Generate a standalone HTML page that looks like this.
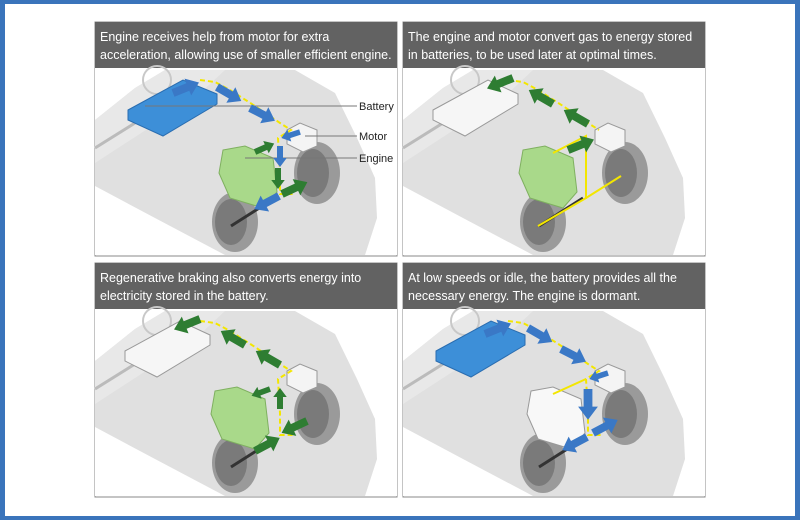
<!DOCTYPE html>
<html><head><meta charset="utf-8"><style>
html,body{margin:0;padding:0;background:#fff}
svg{display:block}
text{font-family:"Liberation Sans",sans-serif}
</style></head><body>
<svg width="800" height="520" viewBox="0 0 800 520" xmlns="http://www.w3.org/2000/svg">
<defs>
<path id="ar" d="M0,-4 L16,-4 L16,-9 L28,0 L16,9 L16,4 L0,4 Z"/>
<g id="base">
  <rect x="0" y="0" width="302" height="187" fill="#fff"/>
  <path d="M0,52 L40,20 L70,2 L200,2 L240,25 L262,70 L280,110 L282,150 L270,187 L130,187 L60,150 L0,118 Z" fill="#e0e0e0"/>
  <path d="M0,52 L40,20 L70,2 L130,2 L100,30 L0,95 Z" fill="#e8e8e8"/>
  <ellipse cx="62" cy="12" rx="14" ry="14" fill="none" stroke="#c8c8c8" stroke-width="2"/>
  <line x1="0" y1="80" x2="40" y2="55" stroke="#bbb" stroke-width="3"/>
  <ellipse cx="222" cy="105" rx="23" ry="31" fill="#9a9a9a"/>
  <ellipse cx="218" cy="105" rx="16" ry="24" fill="#7a7a7a"/>
  <ellipse cx="140" cy="154" rx="23" ry="30" fill="#9a9a9a"/>
  <ellipse cx="136" cy="154" rx="16" ry="23" fill="#7a7a7a"/>
  <line x1="136" y1="158" x2="180" y2="130" stroke="#333" stroke-width="3"/>
  <path d="M192,62 L205,55 L222,62 L222,78 L208,84 L192,76 Z" fill="#f4f4f4" stroke="#999" stroke-width="1"/>
</g>
</defs>
<rect x="0" y="0" width="800" height="520" fill="#3a74bb"/>
<rect x="5" y="4" width="790" height="512" fill="#fff"/>

<g transform="translate(95,22)">
  <rect x="0" y="0" width="302" height="234" fill="#fff" stroke="#888"/>
  <rect x="0" y="0" width="302" height="46" fill="#626262"/>
  <text x="5" y="19" font-size="12.5" fill="#fff">Engine receives help from motor for extra</text>
  <text x="5" y="37" font-size="12.5" fill="#fff">acceleration, allowing use of smaller efficient engine.</text>
  <g transform="translate(0,46)">
    <use href="#base"/>
    <path d="M33,42 L88,12 L122,26 L122,36 L68,68 L33,52 Z" fill="#3d8fd8" stroke="#2a6db0"/>
    <path d="M128,82 L150,78 L178,90 L182,124 L168,140 L135,130 L124,105 Z" fill="#a9d98a" stroke="#7fb060"/>
    <polyline points="105,12 120,14 135,22 160,38 185,55 196,62 183,70 185,104 185,126 198,126" fill="none" stroke="#f3e600" stroke-width="2" stroke-dasharray="5,3"/>
    <line x1="50" y1="38" x2="262" y2="38" stroke="#777"/>
    <line x1="210" y1="68" x2="262" y2="68" stroke="#777"/>
    <line x1="150" y1="90" x2="262" y2="90" stroke="#777"/>
    <text x="264" y="42" font-size="11" fill="#222">Battery</text>
    <text x="264" y="72" font-size="11" fill="#222">Motor</text>
    <text x="264" y="94" font-size="11" fill="#222">Engine</text>
    <g fill="#3a78c6">
      <use href="#ar" transform="translate(78,25) rotate(-22)"/>
      <use href="#ar" transform="translate(122,19) rotate(30)"/>
      <use href="#ar" transform="translate(155,40) rotate(27)"/>
      <use href="#ar" transform="translate(205,64) rotate(162) scale(.7)"/>
      <use href="#ar" transform="translate(185,78) rotate(90) scale(.75)"/>
      <use href="#ar" transform="translate(184,128) rotate(152)"/>
    </g>
    <g fill="#2e7d32">
      <use href="#ar" transform="translate(160,84) rotate(-24) scale(.75)"/>
      <use href="#ar" transform="translate(183,100) rotate(90) scale(.75)"/>
      <use href="#ar" transform="translate(187,126) rotate(-25)"/>
    </g>
  </g>
</g>

<g transform="translate(403,22)">
  <rect x="0" y="0" width="302" height="234" fill="#fff" stroke="#888"/>
  <rect x="0" y="0" width="302" height="46" fill="#626262"/>
  <text x="5" y="19" font-size="12.5" fill="#fff">The engine and motor convert gas to energy stored</text>
  <text x="5" y="37" font-size="12.5" fill="#fff">in batteries, to be used later at optimal times.</text>
  <g transform="translate(0,46)">
    <use href="#base"/>
    <path d="M30,42 L85,12 L115,26 L115,36 L62,68 L30,52 Z" fill="#f6f6f6" stroke="#999"/>
    <path d="M120,82 L142,78 L170,90 L174,124 L160,140 L127,130 L116,105 Z" fill="#a9d98a" stroke="#7fb060"/>
    <polyline points="105,12 120,14 135,22 160,38 185,55 196,62" fill="none" stroke="#f3e600" stroke-width="2" stroke-dasharray="5,3"/>
    <polyline points="150,85 183,68 183,130 135,158" fill="none" stroke="#f3e600" stroke-width="2"/>
    <line x1="183" y1="130" x2="218" y2="108" stroke="#f3e600" stroke-width="2"/>
    <g fill="#2e7d32">
      <use href="#ar" transform="translate(110,10) rotate(158)"/>
      <use href="#ar" transform="translate(150,36) rotate(-150)"/>
      <use href="#ar" transform="translate(185,56) rotate(-150)"/>
      <use href="#ar" transform="translate(165,82) rotate(-22)"/>
    </g>
  </g>
</g>

<g transform="translate(95,263)">
  <rect x="0" y="0" width="302" height="234" fill="#fff" stroke="#888"/>
  <rect x="0" y="0" width="302" height="46" fill="#626262"/>
  <text x="5" y="19" font-size="12.5" fill="#fff">Regenerative braking also converts energy into</text>
  <text x="5" y="37" font-size="12.5" fill="#fff">electricity stored in the battery.</text>
  <g transform="translate(0,46)">
    <use href="#base"/>
    <path d="M30,42 L85,12 L115,26 L115,36 L62,68 L30,52 Z" fill="#f6f6f6" stroke="#999"/>
    <path d="M120,82 L142,78 L170,90 L174,124 L160,140 L127,130 L116,105 Z" fill="#a9d98a" stroke="#7fb060"/>
    <polyline points="105,12 120,14 135,22 160,38 185,55 196,62 183,70 185,104 185,126 198,126" fill="none" stroke="#f3e600" stroke-width="2" stroke-dasharray="5,3"/>
    <g fill="#2e7d32">
      <use href="#ar" transform="translate(105,10) rotate(158)"/>
      <use href="#ar" transform="translate(150,36) rotate(-150)"/>
      <use href="#ar" transform="translate(185,56) rotate(-150)"/>
      <use href="#ar" transform="translate(185,100) rotate(-90) scale(.75)"/>
      <use href="#ar" transform="translate(175,80) rotate(160) scale(.7)"/>
      <use href="#ar" transform="translate(212,112) rotate(155)"/>
      <use href="#ar" transform="translate(160,142) rotate(-28)"/>
    </g>
  </g>
</g>

<g transform="translate(403,263)">
  <rect x="0" y="0" width="302" height="234" fill="#fff" stroke="#888"/>
  <rect x="0" y="0" width="302" height="46" fill="#626262"/>
  <text x="5" y="19" font-size="12.5" fill="#fff">At low speeds or idle, the battery provides all the</text>
  <text x="5" y="37" font-size="12.5" fill="#fff">necessary energy.  The engine is dormant.</text>
  <g transform="translate(0,46)">
    <use href="#base"/>
    <path d="M33,42 L88,12 L122,26 L122,36 L68,68 L33,52 Z" fill="#3d8fd8" stroke="#2a6db0"/>
    <path d="M128,82 L150,78 L178,90 L182,124 L168,140 L135,130 L124,105 Z" fill="#f8f8f8" stroke="#999"/>
    <polyline points="105,12 120,14 135,22 160,38 185,55 196,62 183,70 185,104 185,126 198,126" fill="none" stroke="#f3e600" stroke-width="2" stroke-dasharray="5,3"/>
    <line x1="150" y1="85" x2="183" y2="70" stroke="#f3e600" stroke-width="2"/>
    <g fill="#3a78c6">
      <use href="#ar" transform="translate(82,25) rotate(-22)"/>
      <use href="#ar" transform="translate(125,19) rotate(30)"/>
      <use href="#ar" transform="translate(158,40) rotate(27)"/>
      <use href="#ar" transform="translate(205,64) rotate(162) scale(.7)"/>
      <use href="#ar" transform="translate(185,80) rotate(90) scale(1.1)"/>
      <use href="#ar" transform="translate(184,128) rotate(152)"/>
      <use href="#ar" transform="translate(190,124) rotate(-28)"/>
    </g>
  </g>
</g>
</svg>
</body></html>
